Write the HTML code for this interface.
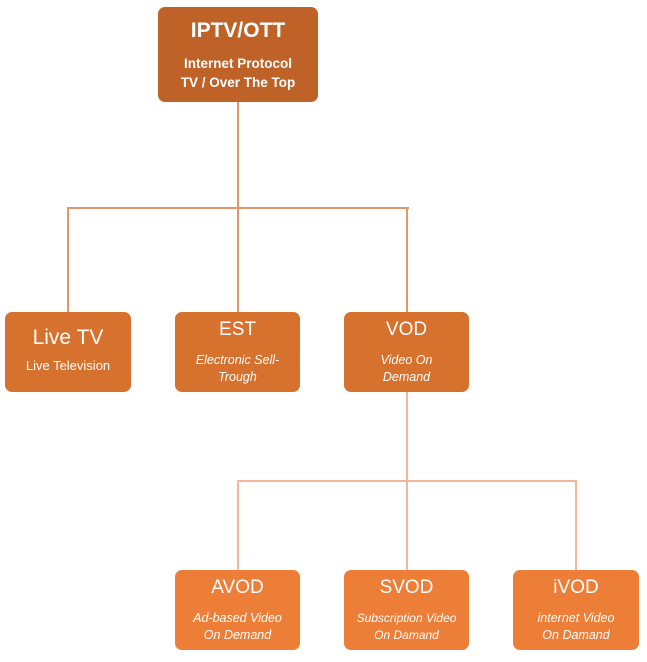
<!DOCTYPE html>
<html><head><style>
body{margin:0;width:647px;height:662px;background:#fff;position:relative;font-family:"Liberation Sans",sans-serif;overflow:hidden}
.b{position:absolute;border-radius:7px;color:#fff;text-align:center;box-sizing:border-box}
.t{font-size:19px;line-height:22px}
.s{font-size:12.5px;line-height:17px;font-style:italic}
.l{position:absolute}
</style></head><body>
<div class="l" style="left:237px;top:102px;width:2px;height:106px;background:#E6946A"></div>
<div class="l" style="left:67px;top:207px;width:342px;height:2px;background:#E6946A"></div>
<div class="l" style="left:67px;top:207px;width:2px;height:105px;background:#E6946A"></div>
<div class="l" style="left:237px;top:207px;width:2px;height:105px;background:#E6946A"></div>
<div class="l" style="left:406px;top:207px;width:2px;height:105px;background:#E6946A"></div>
<div class="l" style="left:406px;top:392px;width:2px;height:90px;background:#F3B59B"></div>
<div class="l" style="left:237px;top:480px;width:340px;height:2px;background:#F3B59B"></div>
<div class="l" style="left:237px;top:480px;width:2px;height:90px;background:#F3B59B"></div>
<div class="l" style="left:406px;top:480px;width:2px;height:90px;background:#F3B59B"></div>
<div class="l" style="left:575px;top:480px;width:2px;height:90px;background:#F3B59B"></div>

<div class="b" style="left:158px;top:7px;width:160px;height:95px;background:#BE6228">
<div style="font-size:21px;font-weight:bold;margin-top:12px;line-height:24px">IPTV/OTT</div>
<div style="font-size:13.5px;font-weight:bold;margin-top:11px;line-height:19px">Internet Protocol<br>TV / Over The Top</div></div>

<div class="b" style="left:5px;top:312px;width:126px;height:80px;background:#D6712E">
<div class="t" style="font-size:21px;margin-top:15px">Live TV</div>
<div style="font-size:13px;margin-top:9px">Live Television</div></div>
<div class="b" style="left:175px;top:312px;width:125px;height:80px;background:#D6712E">
<div class="t" style="margin-top:7px">EST</div>
<div class="s" style="margin-top:11px">Electronic Sell-<br>Trough</div></div>
<div class="b" style="left:344px;top:312px;width:125px;height:80px;background:#D6712E">
<div class="t" style="margin-top:7px">VOD</div>
<div class="s" style="margin-top:11px">Video On<br>Demand</div></div>

<div class="b" style="left:175px;top:570px;width:125px;height:80px;background:#ED7E37">
<div class="t" style="margin-top:7px">AVOD</div>
<div class="s" style="margin-top:11px">Ad-based Video<br>On Demand</div></div>
<div class="b" style="left:344px;top:570px;width:125px;height:80px;background:#ED7E37">
<div class="t" style="margin-top:7px">SVOD</div>
<div class="s" style="margin-top:11px;font-size:12px">Subscription Video<br>On Damand</div></div>
<div class="b" style="left:513px;top:570px;width:126px;height:80px;background:#ED7E37">
<div class="t" style="margin-top:7px">iVOD</div>
<div class="s" style="margin-top:11px">internet Video<br>On Damand</div></div>
</body></html>
